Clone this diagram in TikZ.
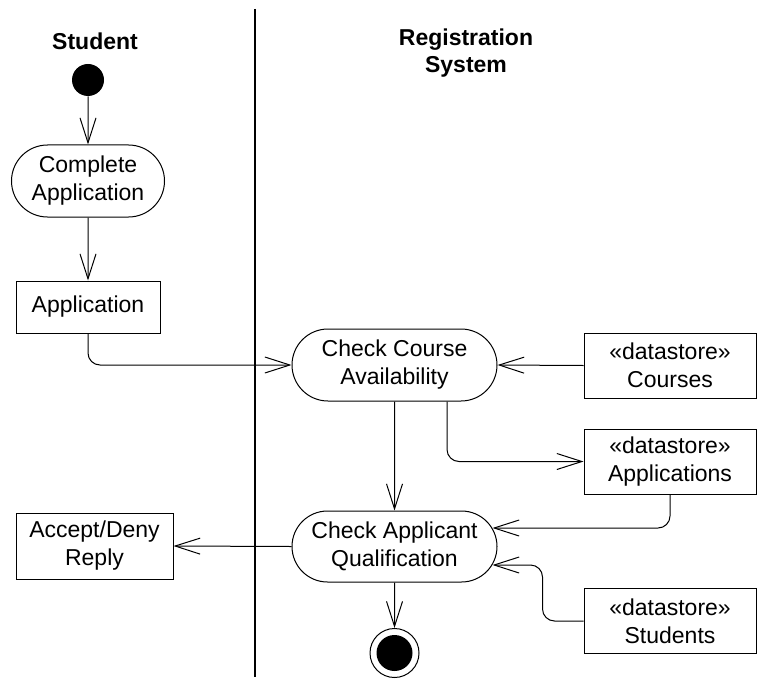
\documentclass[tikz,border=0pt]{standalone}
\usepackage{fontspec}
\setmainfont{Liberation Sans}
\usetikzlibrary{shapes.misc,arrows.meta,calc}

\tikzset{
  activity/.style={draw,rounded rectangle,minimum height=36pt,align=center,inner sep=1pt},
  objbox/.style={draw,rectangle,align=center,inner sep=1pt},
  flow/.style={-{Straight Barb[length=12.5pt,width=8pt]},rounded corners=6pt},
  lanehead/.style={font=\fontsize{11.5}{13.75}\selectfont\bfseries,align=center}
}

\begin{document}
\begin{tikzpicture}[x=0.5pt,y=-0.5pt,line width=0.5pt,
    every node/.append style={font=\fontsize{11.5}{14}\selectfont}]
            \useasboundingbox (0,0) rectangle (758,679);
            \node[lanehead] (student) at (95,41) {Student};
            \node[lanehead] (regsys) at (466,53) {Registration\\System};
            \coordinate (lanetop) at (255,9);
            \coordinate (lanebot) at (255,677);
            \draw[line width=1pt] (lanetop) -- (lanebot);

            \node[circle,fill,inner sep=0pt,minimum size=16pt] (start) at (88,80) {};
            \node[activity,minimum width=78.5pt] (complete) at (88,181) {Complete\\Application};
            \node[objbox,minimum width=72pt,minimum height=26pt] (appl) at (88,307) {Application};
            \node[objbox,minimum width=78.5pt,minimum height=33pt] (reply) at (94.5,546) {Accept/Deny\\Reply};
            \node[activity,minimum width=104.5pt] (avail) at (394.5,365) {Check Course\\Availability};
            \node[activity,minimum width=104.5pt,minimum height=35.5pt] (qualif) at (394.5,546.5) {Check Applicant\\Qualification};
            \node[objbox,minimum width=86pt,minimum height=32.5pt] (courses) at (670,365.5) {«datastore»\\Courses};
            \node[objbox,minimum width=86pt,minimum height=32.5pt] (apps) at (670,461.5) {«datastore»\\Applications};
            \node[objbox,minimum width=86pt,minimum height=32.5pt] (studs) at (670,621) {«datastore»\\Students};
            \node[circle,draw,inner sep=0pt,minimum size=24.5pt] (final) at (394.5,653) {};
            \node[circle,fill,inner sep=0pt,minimum size=18pt] (finaldot) at (final) {};

            \draw[flow] (start) -- (complete);
            \draw[flow] (complete) -- (appl);
            \draw[flow] (appl.south) |- (avail.west);
            \draw[flow] (courses.west) -- (avail.east);
            \draw[flow] ($(avail.south)+(52.5,0)$) |- (apps.west);
            \draw[flow] (avail) -- (qualif);
            \draw[flow] (apps.south) |- ($(qualif.east)+(-5,-18.5)$);
            \draw[flow] (studs.west) -- ++(-41,0) -- ++(0,-56) -- ($(qualif.east)+(-5,18.5)$);
            \draw[flow] (qualif.west) -- (reply.east);
            \draw[flow] (qualif) -- (final);
        \end{tikzpicture}
\end{document}
